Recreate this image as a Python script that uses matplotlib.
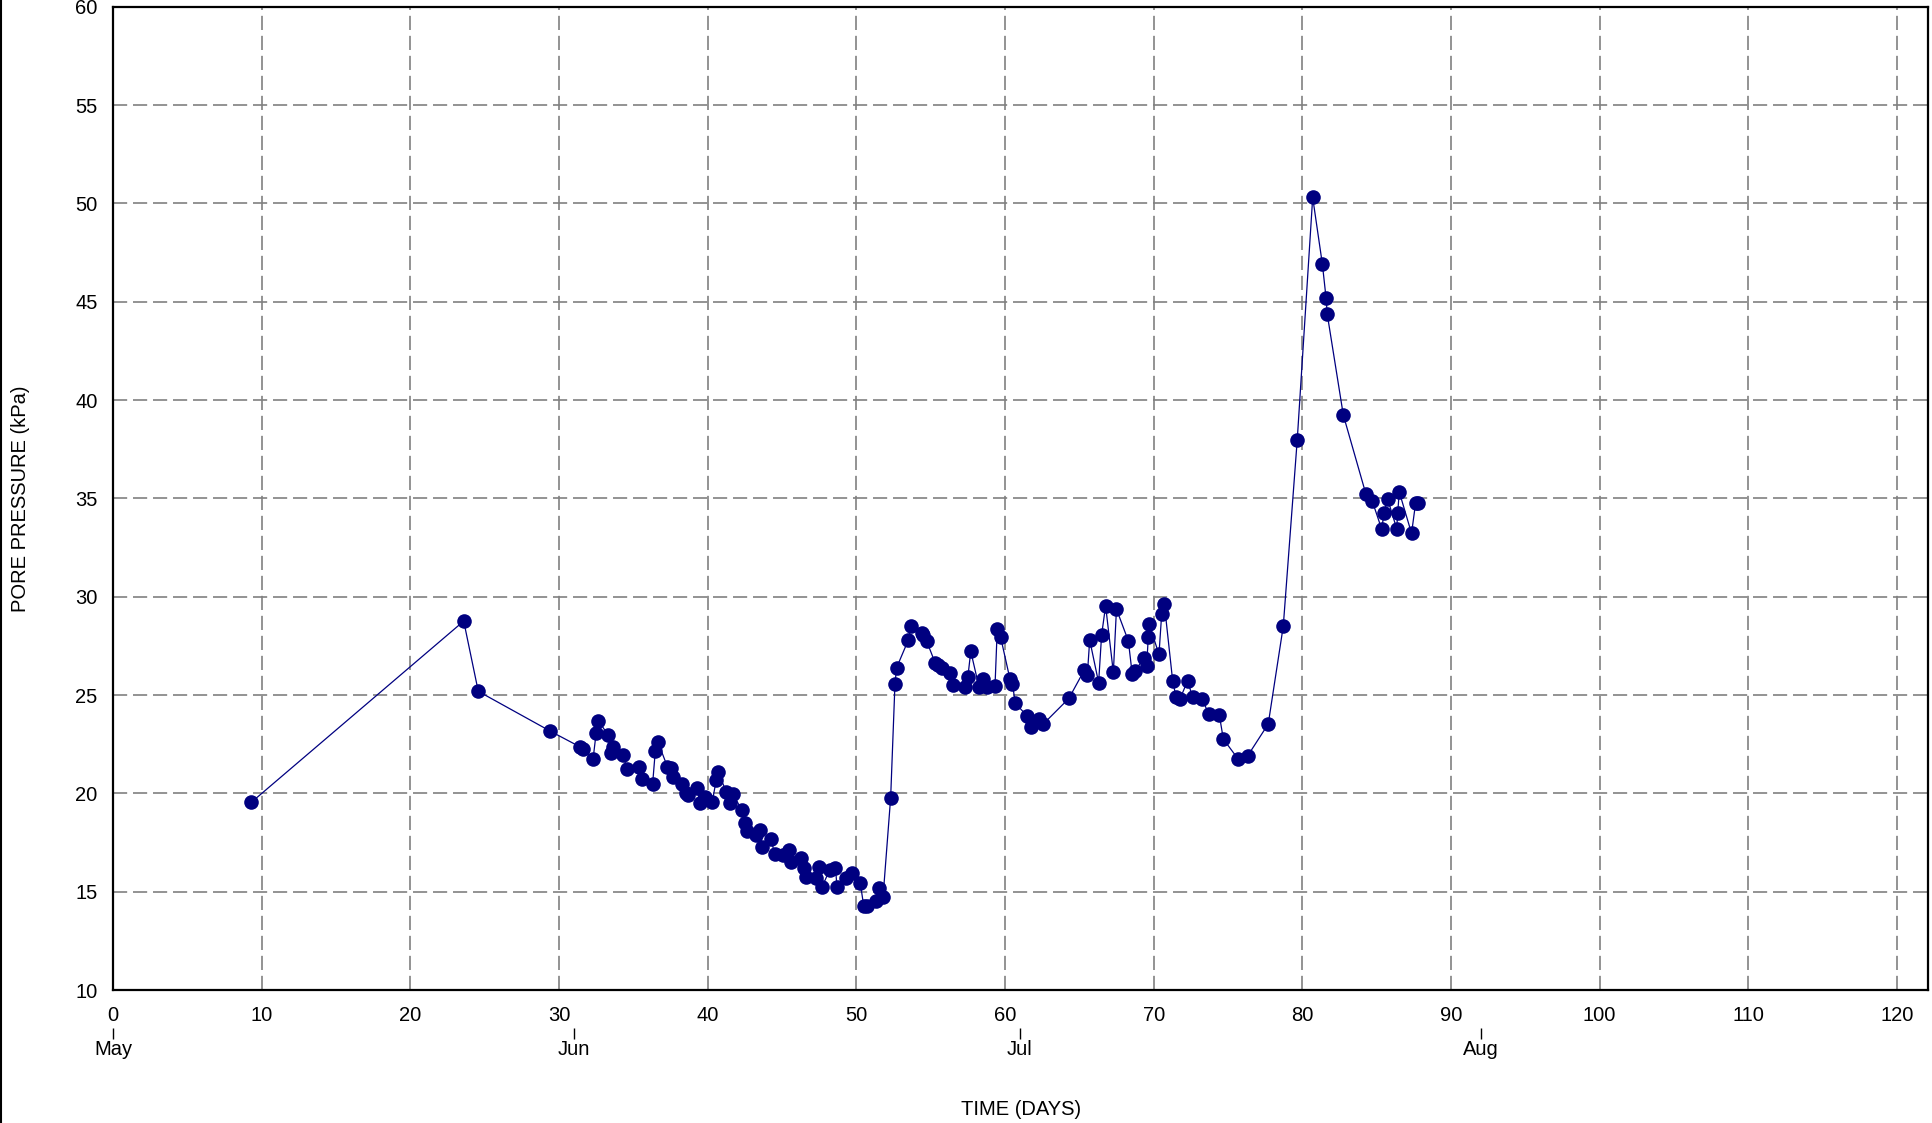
import matplotlib
matplotlib.use("Agg")
import matplotlib.pyplot as plt
from matplotlib.lines import Line2D

plt.rcParams['font.family'] = ['Liberation Sans', 'DejaVu Sans']

# time since start (days) and pore pressure (kPa)
days = [9.31, 23.59, 24.57, 29.4, 31.4, 31.6, 32.29, 32.5, 32.65, 33.3,
        33.5, 33.6, 34.3, 34.6, 35.4, 35.55, 36.3, 36.48, 36.66, 37.29,
        37.55, 37.67, 38.27, 38.56, 38.7, 39.3, 39.46, 39.84, 40.3, 40.58,
        40.7, 41.26, 41.5, 41.7, 42.3, 42.5, 42.65, 43.27, 43.5, 43.68,
        44.28, 44.5, 45.07, 45.5, 45.6, 46.3, 46.45, 46.64, 47.3, 47.5,
        47.7, 48.2, 48.6, 48.7, 49.3, 49.7, 50.27, 50.5, 50.74, 51.3,
        51.5, 51.8, 52.31, 52.6, 52.71, 53.5, 53.68, 54.4, 54.5, 54.73,
        55.3, 55.5, 55.75, 56.3, 56.5, 57.3, 57.5, 57.7, 58.25, 58.54,
        58.77, 59.33, 59.48, 59.7, 60.34, 60.5, 60.7, 61.5, 61.73, 62.3,
        62.58, 64.3, 65.34, 65.54, 65.7, 66.3, 66.5, 66.77, 67.29, 67.5,
        68.3, 68.56, 68.74, 69.35, 69.53, 69.64, 69.7, 70.36, 70.54, 70.72,
        71.28, 71.5, 71.77, 72.29, 72.62, 73.27, 73.72, 74.42, 74.69, 75.7,
        76.32, 77.71, 78.72, 79.66, 80.7, 81.35, 81.6, 81.68, 82.76, 84.28,
        84.7, 85.34, 85.5, 85.74, 86.35, 86.42, 86.52, 87.35, 87.62, 87.76]
pressure = [19.55, 28.76, 25.19, 23.17, 22.37, 22.25, 21.73, 23.08, 23.7, 22.97,
            22.03, 22.37, 21.95, 21.22, 21.32, 20.73, 20.5, 22.17, 22.6, 21.36,
            21.27, 20.85, 20.5, 20.0, 19.9, 20.25, 19.49, 19.83, 19.54, 20.68,
            21.07, 20.08, 19.53, 19.97, 19.15, 18.47, 18.1, 17.9, 18.14, 17.29,
            17.66, 16.9, 16.86, 17.12, 16.53, 16.69, 16.19, 15.76, 15.68, 16.24,
            15.25, 16.1, 16.19, 15.25, 15.68, 15.93, 15.42, 14.27, 14.27, 14.53,
            15.17, 14.75, 19.78, 25.56, 26.39, 27.8, 28.53, 28.17, 28.05, 27.75,
            26.64, 26.53, 26.4, 26.1, 25.5, 25.4, 25.9, 27.22, 25.42, 25.8,
            25.42, 25.46, 28.34, 27.97, 25.8, 25.56, 24.58, 23.93, 23.39, 23.76,
            23.53, 24.83, 26.27, 26.02, 27.8, 25.63, 28.05, 29.54, 26.15, 29.37,
            27.75, 26.07, 26.24, 26.86, 26.47, 27.93, 28.6, 27.07, 29.1, 29.63,
            25.73, 24.92, 24.8, 25.73, 24.88, 24.78, 24.02, 23.98, 22.76, 21.73,
            21.9, 23.53, 28.5, 37.97, 50.3, 46.92, 45.19, 44.36, 39.24, 35.22,
            34.88, 33.44, 34.24, 34.97, 33.46, 34.24, 35.34, 33.22, 34.75, 34.75]

x_ticks = list(range(0, 121, 10))
y_ticks = list(range(10, 61, 5))
month_days = [0, 31, 61, 92]
month_names = ['May', 'Jun', 'Jul', 'Aug']

fs = 14.5

fig = plt.figure(figsize=(19.32, 11.23), dpi=100)
ax = fig.add_axes([0.0585, 0.1184, 0.9395, 0.8756])

ax.plot(days, pressure, color='#000080', lw=0.9, marker='o', ms=10.5,
        markeredgewidth=0, zorder=3)

ax.set_xlim(0, 122.1)
ax.set_ylim(10, 60)
ax.set_xticks(x_ticks)
ax.set_yticks(y_ticks)
ax.grid(True, color='#808080', lw=1.2, linestyle=(0, (8.5, 3.5)))
ax.tick_params(axis='x', length=0, pad=11.5, labelsize=fs)
ax.tick_params(axis='y', length=0, pad=11, labelsize=fs)
for s in ax.spines.values():
    s.set_linewidth(1.6)

# month labels below the day numbers
sec = ax.secondary_xaxis(-0.039)
sec.set_xticks(month_days)
sec.set_xticklabels(month_names)
sec.spines['bottom'].set_visible(False)
sec.tick_params(length=8, width=1, pad=0.5, labelsize=fs)

ax.set_ylabel('PORE PRESSURE (kPa)', fontsize=fs, va='center')
ax.yaxis.set_label_coords(-0.0512, 0.5)
ax.set_xlabel('TIME (DAYS)', fontsize=fs, va='center')
ax.xaxis.set_label_coords(0.5, -0.121)

fig.add_artist(Line2D([0.0006, 0.0006], [0, 1], transform=fig.transFigure,
                      color='black', lw=1.5))

fig.savefig('out.png', dpi=100)
